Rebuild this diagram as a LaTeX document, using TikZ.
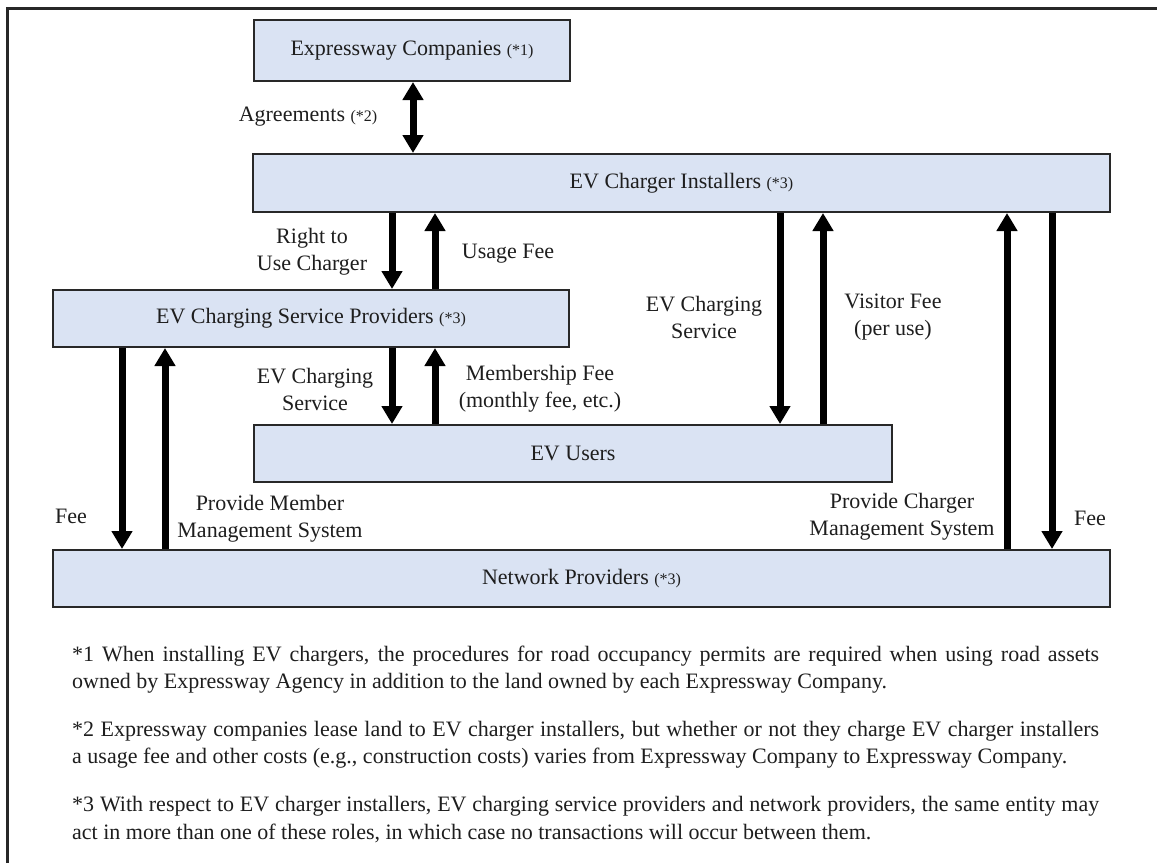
\documentclass[tikz,border=0pt]{standalone}
\usepackage{fontspec}
\setmainfont{Liberation Serif}
\usetikzlibrary{arrows.meta}
\definecolor{boxfill}{RGB}{218,227,243}
\definecolor{boxline}{RGB}{40,40,40}
\definecolor{ink}{RGB}{30,30,30}
\newcommand\mysmall[1]{{\fontsize{16pt}{16pt}\selectfont #1}}
\tikzset{
  box/.style={draw=boxline, line width=2pt, fill=boxfill, inner sep=0pt, text=ink},
  lbl/.style={align=center, inner sep=0pt, text=ink},
  arr/.style={line width=7pt, draw=black, -{Triangle[width=20pt,length=18pt]}},
  darr/.style={line width=7pt, draw=black, {Triangle[width=20pt,length=18pt]}-{Triangle[width=20pt,length=18pt]}},
  note/.style={anchor=base west, inner sep=0pt, text=ink}
}
\begin{document}
\begin{tikzpicture}[x=1pt, y=-1pt, font=\fontsize{22pt}{27pt}\selectfont]
\fill[white] (0,0) rectangle (1157,863);
\useasboundingbox (0,0) rectangle (1157,863);
\draw[line width=3pt, boxline] (7,863) -- (7,8) -- (1157,8);

% boxes
\node[box, minimum width=316pt, minimum height=61pt] (ec) at (412,50.5) {Expressway Companies \mysmall{(*1)}};
\node[box, minimum width=857pt, minimum height=58pt] (ins) at (681.5,183) {EV Charger Installers \mysmall{(*3)}};
\node[box, minimum width=516pt, minimum height=57pt] (sp) at (311,318.5) {EV Charging Service Providers \mysmall{(*3)}};
\node[box, minimum width=638pt, minimum height=57pt] (eu) at (573,453.5) {EV Users};
\node[box, minimum width=1057pt, minimum height=57pt] (np) at (581.5,578.5) {Network Providers \mysmall{(*3)}};

% x positions of connectors
\coordinate (xa) at (413,0);
\coordinate (xb) at (392,0);
\coordinate (xc) at (435,0);
\coordinate (xd) at (780,0);
\coordinate (xe) at (823,0);
\coordinate (xf) at (122,0);
\coordinate (xg) at (165,0);
\coordinate (xh) at (1007,0);
\coordinate (xi) at (1052,0);

% connectors
\draw[darr] (ec.south -| xa) -- (ins.north -| xa);
\draw[arr] (ins.south -| xb) -- (sp.north -| xb);
\draw[arr] (sp.north -| xc) -- (ins.south -| xc);
\draw[arr] (sp.south -| xb) -- (eu.north -| xb);
\draw[arr] (eu.north -| xc) -- (sp.south -| xc);
\draw[arr] (ins.south -| xd) -- (eu.north -| xd);
\draw[arr] (eu.north -| xe) -- (ins.south -| xe);
\draw[arr] (sp.south -| xf) -- (np.north -| xf);
\draw[arr] (np.north -| xg) -- (sp.south -| xg);
\draw[arr] (np.north -| xh) -- (ins.south -| xh);
\draw[arr] (ins.south -| xi) -- (np.north -| xi);

% labels
\node[lbl] (l1) at (308,117) {Agreements \mysmall{(*2)}};
\node[lbl] (l2) at (312,252) {Right to\\Use Charger};
\node[lbl] (l3) at (508,254) {Usage Fee};
\node[lbl] (l4) at (704,317) {EV Charging\\Service};
\node[lbl] (l5) at (893,317) {Visitor Fee\\(per use)};
\node[lbl] (l6) at (315,389) {EV Charging\\Service};
\node[lbl] (l7) at (540,389) {Membership Fee\\(monthly fee, etc.)};
\node[lbl] (l8) at (71,516) {Fee};
\node[lbl] (l9) at (270,519) {Provide Member\\Management System};
\node[lbl] (l10) at (902,517) {Provide Charger\\Management System};
\node[lbl] (l11) at (1090,518) {Fee};

% footnotes
\node[note] (n1a) at (72,661) {\makebox[1027pt][s]{*1 When installing EV chargers, the procedures for road occupancy permits are required when using road assets}};
\node[note] (n1b) at (72,688) {owned by Expressway Agency in addition to the land owned by each Expressway Company.};
\node[note] (n2a) at (72,736) {\makebox[1027pt][s]{*2 Expressway companies lease land to EV charger installers, but whether or not they charge EV charger installers}};
\node[note] (n2b) at (72,763) {a usage fee and other costs (e.g., construction costs) varies from Expressway Company to Expressway Company.};
\node[note] (n3a) at (72,811) {\makebox[1027pt][s]{*3 With respect to EV charger installers, EV charging service providers and network providers, the same entity may}};
\node[note] (n3b) at (72,839) {act in more than one of these roles, in which case no transactions will occur between them.};
\end{tikzpicture}
\end{document}
